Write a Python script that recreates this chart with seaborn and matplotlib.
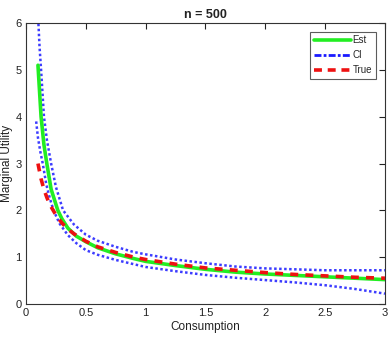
import numpy as np
import pandas as pd
import matplotlib
matplotlib.use("Agg")
import matplotlib.pyplot as plt
import seaborn as sns

# Data
x_est = [0.10, 0.126, 0.15, 0.174, 0.21, 0.266, 0.30, 0.35, 0.42, 0.50, 0.60, 0.75, 0.90, 1.0, 1.25, 1.5, 1.75, 2.0, 2.25, 2.5, 2.75, 3.0]
y_est = [5.10, 4.00, 3.40, 3.00, 2.45, 2.00, 1.82, 1.62, 1.45, 1.33, 1.20, 1.07, 0.97, 0.91, 0.82, 0.74, 0.68, 0.64, 0.61, 0.58, 0.55, 0.52]

x_true = [0.10, 0.125, 0.15, 0.175, 0.20, 0.25, 0.30, 0.35, 0.40, 0.50, 0.60, 0.75, 0.90, 1.0, 1.25, 1.5, 1.75, 2.0, 2.25, 2.5, 2.75, 3.0]
y_true = [3.00, 2.68, 2.45, 2.27, 2.12, 1.90, 1.73, 1.60, 1.50, 1.34, 1.22, 1.10, 1.00, 0.95, 0.85, 0.77, 0.72, 0.67, 0.63, 0.60, 0.57, 0.55]

x_ci_up = [0.10, 0.113, 0.126, 0.15, 0.175, 0.21, 0.25, 0.31, 0.40, 0.50, 0.60, 0.75, 0.90, 1.0, 1.25, 1.5, 1.75, 2.0, 2.25, 2.5, 2.75, 3.0]
y_ci_up = [6.20, 5.50, 5.00, 4.00, 3.50, 3.00, 2.50, 2.00, 1.70, 1.48, 1.35, 1.22, 1.11, 1.06, 0.95, 0.87, 0.80, 0.76, 0.74, 0.72, 0.72, 0.72]

x_ci_lo = [0.085, 0.10, 0.12, 0.14, 0.17, 0.20, 0.23, 0.28, 0.35, 0.42, 0.50, 0.60, 0.75, 0.90, 1.0, 1.25, 1.5, 1.75, 2.0, 2.25, 2.5, 2.75, 3.0]
y_ci_lo = [3.90, 3.55, 3.25, 3.00, 2.55, 2.25, 2.00, 1.72, 1.47, 1.30, 1.15, 1.05, 0.94, 0.85, 0.79, 0.70, 0.62, 0.56, 0.51, 0.46, 0.40, 0.32, 0.22]

xticks = [0, 0.5, 1, 1.5, 2, 2.5, 3]
xticklabels = ["0", "0.5", "1", "1.5", "2", "2.5", "3"]
yticks = [0, 1, 2, 3, 4, 5, 6]

sns.set_theme(style="white")
plt.rcParams['font.family'] = ['Liberation Sans', 'DejaVu Sans']

fig = plt.figure(figsize=(3.91, 3.40), dpi=100)
ax = fig.add_axes([0.0665, 0.106, 0.918, 0.826])

ci_color = "#1a1aff"
sns.lineplot(x=x_ci_up, y=y_ci_up, ax=ax, color=ci_color, lw=1.8, alpha=0.85,
             linestyle=(0, (1, 1)), estimator=None, sort=False)
sns.lineplot(x=x_ci_lo, y=y_ci_lo, ax=ax, color=ci_color, lw=1.8, alpha=0.85,
             linestyle=(0, (1, 1)), estimator=None, sort=False)
sns.lineplot(x=x_est, y=y_est, ax=ax, color="#22ee22", lw=2.6,
             estimator=None, sort=False)
sns.lineplot(x=x_true, y=y_true, ax=ax, color="#ee1111", lw=2.6,
             linestyle=(0, (2.2, 2.0)), estimator=None, sort=False)

ax.set_xlim(0, 3)
ax.set_ylim(0, 6)
ax.set_xticks(xticks)
ax.set_xticklabels(xticklabels)
ax.set_yticks(yticks)
ax.tick_params(direction="in", length=4, width=0.8, colors="#222222",
               labelsize=8, top=True, right=True, pad=3)
for s in ax.spines.values():
    s.set_color("#333333")
    s.set_linewidth(0.8)

ax.set_xlabel("Consumption", fontsize=8.5, labelpad=2, color="#222222")
ax.set_ylabel("Marginal Utility", fontsize=8.5, labelpad=2, color="#222222")
ax.set_title("n = 500", fontsize=9, fontweight="bold", pad=4, color="#222222")

from matplotlib.lines import Line2D
handles = [
    Line2D([], [], color="#22ee22", lw=2.6),
    Line2D([], [], color=ci_color, lw=2.0, linestyle=(0, (2.5, 0.8, 1, 0.8))),
    Line2D([], [], color="#ee1111", lw=2.6, linestyle=(0, (2.2, 1.6))),
]
leg = ax.legend(handles, ["Est", "CI", "True"], loc="upper right",
                bbox_to_anchor=(0.975, 0.97), fontsize=7, frameon=True,
                fancybox=False, edgecolor="#333333", handlelength=3.8,
                handletextpad=0.2, borderpad=0.4, labelspacing=0.5,
                borderaxespad=0)
leg.get_frame().set_linewidth(0.8)

fig.savefig("out.png", dpi=100)
